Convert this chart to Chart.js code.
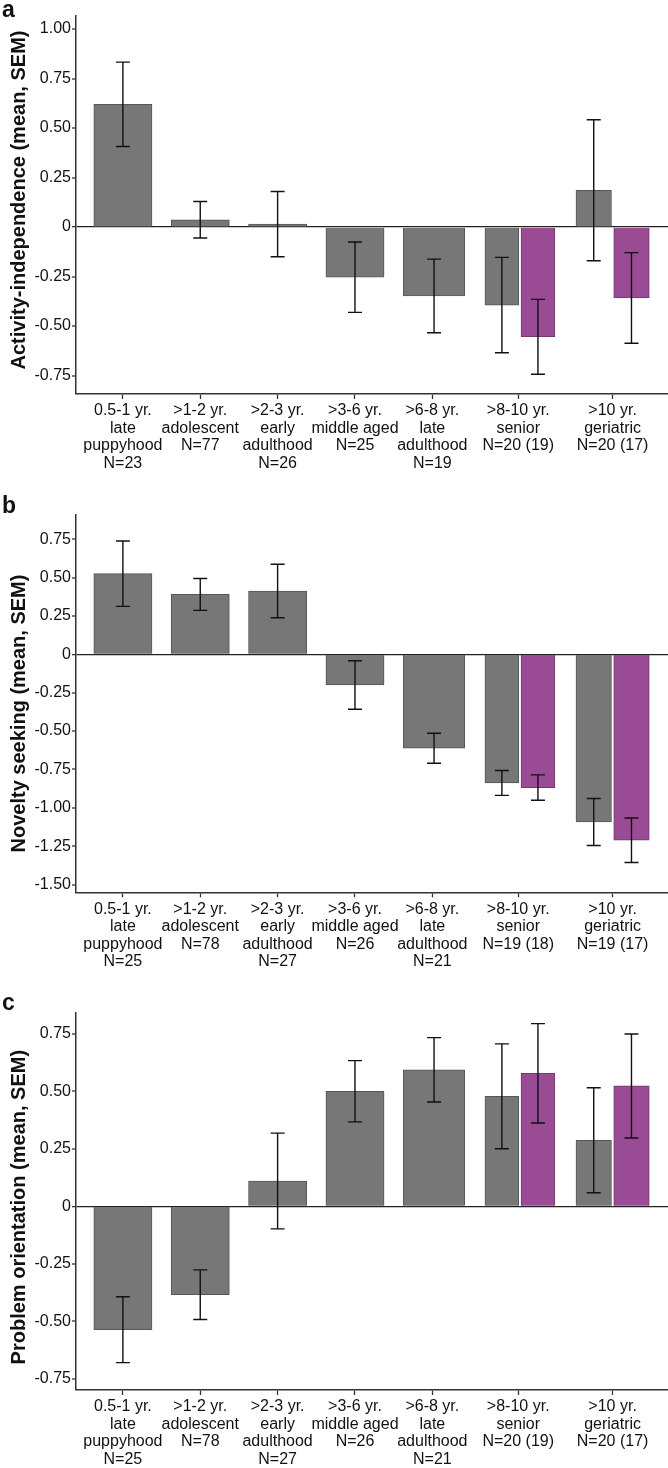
<!DOCTYPE html>
<html>
<head>
<meta charset="utf-8">
<script src="https://cdn.jsdelivr.net/npm/chart.js@4.4.1/dist/chart.umd.min.js"></script>
<style>
  html, body { margin: 0; padding: 0; background: #fff; }
  body { width: 668px; height: 1468px; position: relative; overflow: hidden; font-family: "Liberation Sans", Arial, sans-serif; }
  canvas { position: absolute; left: 0; }
  .letter { position: absolute; left: 2px; font: bold 23px "Liberation Sans", Arial, sans-serif; line-height: 23px; color: #111; }
</style>
</head>
<body>
<canvas id="chartA" width="668" height="478" style="top:0px"></canvas>
<canvas id="chartB" width="668" height="497" style="top:478px"></canvas>
<canvas id="chartC" width="668" height="493" style="top:975px"></canvas>
<div class="letter" style="top:-2px">a</div>
<div class="letter" style="top:494px">b</div>
<div class="letter" style="top:991px">c</div>
<script>
// ---------------- DATA ----------------
const AGE_RANGES = ['0.5-1 yr.', '>1-2 yr.', '>2-3 yr.', '>3-6 yr.', '>6-8 yr.', '>8-10 yr.', '>10 yr.'];
const LIFE_STAGES = [['late', 'puppyhood'], ['adolescent'], ['early', 'adulthood'], ['middle aged'], ['late', 'adulthood'], ['senior'], ['geriatric']];
const N_A = ['N=23', 'N=77', 'N=26', 'N=25', 'N=19', 'N=20 (19)', 'N=20 (17)'];
const N_B = ['N=25', 'N=78', 'N=27', 'N=26', 'N=21', 'N=19 (18)', 'N=19 (17)'];
const N_C = ['N=25', 'N=78', 'N=27', 'N=26', 'N=21', 'N=20 (19)', 'N=20 (17)'];

// a: Activity-independence
const MEAN_A_ALL = [0.62, 0.037, 0.015, -0.253, -0.348, -0.394, 0.186];
const SEM_A_ALL  = [0.213, 0.092, 0.165, 0.178, 0.186, 0.241, 0.356];
const MEAN_A_SUB = [null, null, null, null, null, -0.554, -0.358];
const SEM_A_SUB  = [null, null, null, null, null, 0.189, 0.229];
// b: Novelty seeking
const MEAN_B_ALL = [0.525, 0.39, 0.412, -0.2, -0.612, -0.838, -1.092];
const SEM_B_ALL  = [0.213, 0.104, 0.174, 0.158, 0.098, 0.081, 0.153];
const MEAN_B_SUB = [null, null, null, null, null, -0.868, -1.211];
const SEM_B_SUB  = [null, null, null, null, null, 0.083, 0.145];
// c: Problem orientation
const MEAN_C_ALL = [-0.536, -0.384, 0.11, 0.5, 0.593, 0.478, 0.287];
const SEM_C_ALL  = [0.143, 0.108, 0.208, 0.133, 0.14, 0.228, 0.228];
const MEAN_C_SUB = [null, null, null, null, null, 0.578, 0.523];
const SEM_C_SUB  = [null, null, null, null, null, 0.216, 0.226];

// y-axis tick values
const TICKS_A = [-0.75, -0.5, -0.25, 0, 0.25, 0.5, 0.75, 1.0];
const TICKS_B = [-1.5, -1.25, -1.0, -0.75, -0.5, -0.25, 0, 0.25, 0.5, 0.75];
const TICKS_C = [-0.75, -0.5, -0.25, 0, 0.25, 0.5, 0.75];

// ---------------- STYLE / LAYOUT ----------------
const FONT = '"Liberation Sans", Arial, sans-serif';
const GREY = '#777777', GREY_BORDER = '#565656';
const PURPLE = '#994b93', PURPLE_BORDER = '#74366f';
const PAIR_EXTRA = 0.22;   // extra width of a category holding two bars
const EDGE = 0.106;        // margin at both ends, in category units

Chart.defaults.font.family = FONT;
Chart.defaults.color = '#111';

// Category scale whose slots widen where two bars share a category
class WeightedCategoryScale extends Chart.CategoryScale {
  _weights() {
    const ds = this.chart.data.datasets;
    const n = this.chart.data.labels.length;
    const w = [];
    for (let i = 0; i < n; i++) {
      let c = 0;
      ds.forEach(d => { const v = d.data[i]; if (v !== null && v !== undefined) c++; });
      w.push(1 + PAIR_EXTRA * (Math.max(c, 1) - 1));
    }
    return w;
  }
  getPixelForValue(value) {
    if (typeof value !== 'number') value = this.parse(value);
    if (value === null || value === undefined || isNaN(value)) return NaN;
    const w = this._weights();
    const n = w.length;
    const centers = [];
    let acc = EDGE;
    for (let i = 0; i < n; i++) { centers.push(acc + w[i] / 2); acc += w[i]; }
    const total = acc + EDGE;
    let pos;
    if (value <= 0) pos = centers[0] + value * w[0];
    else if (value >= n - 1) pos = centers[n - 1] + (value - (n - 1)) * w[n - 1];
    else {
      const k = Math.floor(value), f = value - k;
      pos = centers[k] + f * (centers[k + 1] - centers[k]);
    }
    return this.getPixelForDecimal(pos / total);
  }
}
WeightedCategoryScale.id = 'weightedCategory';
Chart.register(WeightedCategoryScale);

// Linear scale whose axis title can be nudged along the axis
class ShiftedTitleLinearScale extends Chart.LinearScale {
  drawTitle() {
    const dy = this.options.titleShift || 0;
    this.ctx.save();
    this.ctx.translate(0, dy);
    super.drawTitle();
    this.ctx.restore();
  }
}
ShiftedTitleLinearScale.id = 'shiftedTitleLinear';
Chart.register(ShiftedTitleLinearScale);

function buildLabels(nList) {
  return AGE_RANGES.map((a, i) => [a, ...LIFE_STAGES[i], nList[i]]);
}

function makePanel(id, opts) {
  const errorBars = {
    id: 'errorBars' + id,
    afterDatasetsDraw(chart) {
      const ctx = chart.ctx;
      const y = chart.scales.y;
      const sems = [opts.semAll, opts.semSub];
      ctx.save();
      ctx.strokeStyle = '#111';
      ctx.lineWidth = 1.4;
      chart.data.datasets.forEach((ds, d) => {
        const meta = chart.getDatasetMeta(d);
        ds.data.forEach((m, i) => {
          const s = sems[d][i];
          if (m === null || s === null) return;
          const el = meta.data[i];
          const x = el.x;
          const yTop = y.getPixelForValue(m + s);
          const yBot = y.getPixelForValue(m - s);
          const cap = 7;
          ctx.beginPath();
          ctx.moveTo(x, yTop); ctx.lineTo(x, yBot);
          ctx.moveTo(x - cap, yTop); ctx.lineTo(x + cap, yTop);
          ctx.moveTo(x - cap, yBot); ctx.lineTo(x + cap, yBot);
          ctx.stroke();
        });
      });
      ctx.restore();
    }
  };

  return new Chart(document.getElementById(id), {
    type: 'bar',
    data: {
      labels: buildLabels(opts.nList),
      datasets: [
        { label: 'All dogs', data: opts.meanAll, backgroundColor: GREY, borderColor: GREY_BORDER, borderWidth: 1,
          skipNull: true, barThickness: 'flex', categoryPercentage: 0.8, barPercentage: 0.94 },
        { label: 'Subsample', data: opts.meanSub, backgroundColor: PURPLE, borderColor: PURPLE_BORDER, borderWidth: 1,
          skipNull: true, barThickness: 'flex', categoryPercentage: 0.8, barPercentage: 0.94 }
      ]
    },
    options: {
      responsive: false,
      animation: false,
      events: [],
      layout: { padding: { top: opts.padTop, left: 0, right: 0, bottom: 0 } },
      plugins: { legend: { display: false }, tooltip: { enabled: false } },
      scales: {
        x: {
          type: 'weightedCategory',
          offset: true,
          grid: { offset: false, drawOnChartArea: false, drawTicks: true, tickLength: 5, tickColor: '#333', tickWidth: 1.3 },
          border: { display: true, color: '#333', width: 1.5 },
          ticks: { font: { size: 16, lineHeight: 1.1 }, color: '#111', padding: 3, maxRotation: 0, autoSkip: false },
          afterFit(scale) { scale.height = opts.xHeight; }
        },
        y: {
          type: 'shiftedTitleLinear',
          titleShift: opts.titleShift,
          min: opts.min, max: opts.max,
          afterBuildTicks(scale) { scale.ticks = opts.ticks.map(v => ({ value: v })); },
          grid: {
            drawOnChartArea: true,
            color: c => (c.tick && c.tick.value === 0) ? '#222' : 'rgba(0,0,0,0)',
            lineWidth: c => (c.tick && c.tick.value === 0) ? 1.3 : 0,
            tickLength: 4, tickColor: '#333', tickWidth: 1.3
          },
          border: { display: true, color: '#333', width: 1.5 },
          ticks: {
            font: { size: 16 }, color: '#111', padding: 1,
            callback: v => v === 0 ? '0' : v.toFixed(2)
          },
          title: {
            display: true, text: opts.title,
            font: { size: 20, weight: 'bold' }, color: '#111',
            padding: { top: 7, bottom: 0 }
          },
          afterFit(scale) { scale.width = 76; }
        }
      }
    },
    plugins: [errorBars]
  });
}

makePanel('chartA', {
  nList: N_A, meanAll: MEAN_A_ALL, semAll: SEM_A_ALL, meanSub: MEAN_A_SUB, semSub: SEM_A_SUB,
  ticks: TICKS_A, min: -0.843, max: 1.066, padTop: 16, xHeight: 84, titleShift: -5,
  title: 'Activity-independence (mean, SEM)'
});
makePanel('chartB', {
  nList: N_B, meanAll: MEAN_B_ALL, semAll: SEM_B_ALL, meanSub: MEAN_B_SUB, semSub: SEM_B_SUB,
  ticks: TICKS_B, min: -1.55, max: 0.909, padTop: 36.7, xHeight: 82.7, titleShift: 10,
  title: 'Novelty seeking (mean, SEM)'
});
makePanel('chartC', {
  nList: N_C, meanAll: MEAN_C_ALL, semAll: SEM_C_ALL, meanSub: MEAN_C_SUB, semSub: SEM_C_SUB,
  ticks: TICKS_C, min: -0.798, max: 0.843, padTop: 37.3, xHeight: 78, titleShift: 6,
  title: 'Problem orientation (mean, SEM)'
});
</script>
</body>
</html>
